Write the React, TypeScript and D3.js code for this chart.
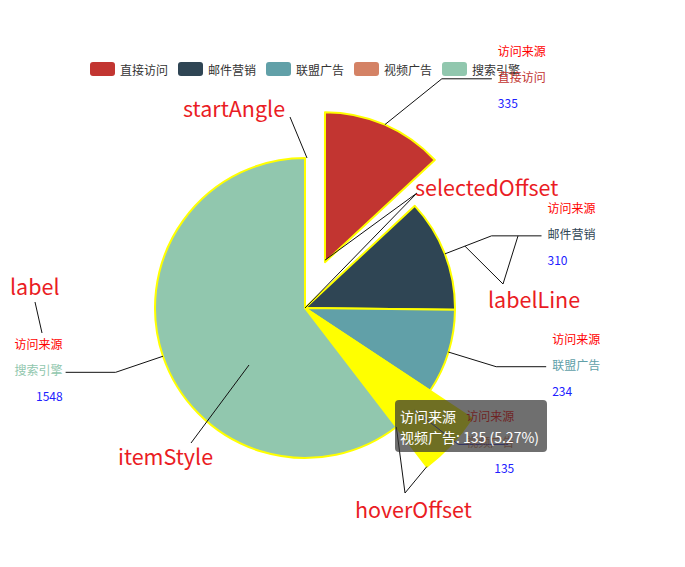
import React from 'react';
import * as d3 from 'd3';

// ---- data ----
const categories = ['直接访问', '邮件营销', '联盟广告', '视频广告', '搜索引擎'];
const values = [335, 310, 234, 135, 1548];
const colors = ['#c23531', '#2f4554', '#61a0a8', '#d48265', '#91c7ae'];
const seriesName = '访问来源';
const selectedIndex = 0;
const hoverIndex = 3;
const annotationTexts = ['startAngle', 'selectedOffset', 'labelLine', 'label', 'itemStyle', 'hoverOffset'];

// ---- layout ----
const W = 685;
const H = 567;
const CX = 305;
const CY = 308;
const R = 150;
const SELECTED_OFFSET = 50;
const HOVER_OFFSET = 50;
const LEN1 = 50;
const LEN2 = 50;
const labelNudge = [37, 0, 0, 7, 0];
const FONT = "'Noto Sans CJK SC', 'Noto Sans', sans-serif";
const ANN = '#ea1c24';

export default function App() {
  const pie = d3.pie<number>().sort(null).value((d) => d);
  const arcs = pie(values);
  const total = d3.sum(values);
  const arcGen = d3.arc<d3.PieArcDatum<number>>().innerRadius(0).outerRadius(R);
  const hoverArc = d3.arc<d3.PieArcDatum<number>>().innerRadius(0).outerRadius(R + HOVER_OFFSET);

  const pt = (a: number, r: number, c: [number, number]): [number, number] => [
    c[0] + Math.sin(a) * r,
    c[1] - Math.cos(a) * r,
  ];

  const items = arcs.map((a, i) => {
    const m = (a.startAngle + a.endAngle) / 2;
    const off = i === selectedIndex ? SELECTED_OFFSET : 0;
    const c: [number, number] = [CX + Math.sin(m) * off, CY - Math.cos(m) * off];
    const dir = Math.sin(m) >= 0 ? 1 : -1;
    const p1 = pt(m, R, c);
    const p2raw = pt(m, R + LEN1, c);
    const p2: [number, number] = [p2raw[0] + labelNudge[i], p2raw[1]];
    const p3: [number, number] = [p2[0] + dir * LEN2, p2[1]];
    let anchor: 'start' | 'end' = dir > 0 ? 'start' : 'end';
    let tx = dir > 0 ? p3[0] + 6 : p3[0] - 3;
    if (i === hoverIndex) {
      anchor = 'end';
      tx = p3[0] + 6;
    }
    return { a, i, m, c, dir, p1, p2, p3, anchor, tx };
  });

  const legendX0 = 90;
  const legendStep = 88;
  const legendY = 69;

  const sel = items[selectedIndex];
  const mail = items[1];
  const hov = items[hoverIndex];
  const lerp = (p: [number, number], q: [number, number], t: number) => [p[0] + (q[0] - p[0]) * t, p[1] + (q[1] - p[1]) * t];
  const mailA = lerp(mail.p1, mail.p2, 0.43);
  const mailB = lerp(mail.p2, mail.p3, 0.53);
  const hovTip = pt(hov.a.endAngle, R + HOVER_OFFSET, [CX, CY]);
  const hovEdge = pt(hov.a.endAngle, R, [CX, CY]);

  const tipX = 395;
  const tipY = 400;
  const pct = ((values[hoverIndex] / total) * 100).toFixed(2);

  return (
    <svg width={W} height={H} style={{ position: 'absolute', left: 0, top: 0, background: '#fff' }} fontFamily={FONT}>
      {/* legend */}
      {categories.map((c, i) => {
        const x = legendX0 + i * legendStep;
        return (
          <g key={c}>
            <rect x={x} y={legendY - 7} width={25} height={14} rx={3} fill={colors[i]} />
            <text x={x + 30} y={legendY} dominantBaseline="central" fontSize={12} fill="#333">{c}</text>
          </g>
        );
      })}

      {/* slices */}
      {items.map((it) => (
        <path
          key={it.i}
          d={(it.i === hoverIndex ? hoverArc(it.a) : arcGen(it.a)) || ''}
          transform={`translate(${it.c[0]},${it.c[1]})`}
          fill={it.i === hoverIndex ? '#ffff00' : colors[it.i]}
          stroke="#ffff00"
          strokeWidth={2}
          strokeLinejoin="round"
        />
      ))}

      {/* label lines + labels */}
      {items.map((it) => (
        <g key={'l' + it.i}>
          <polyline
            points={[it.p1, it.p2, it.p3].map((p) => p.join(',')).join(' ')}
            fill="none"
            stroke={it.i === hoverIndex ? '#2a2ad0' : '#111'}
            strokeWidth={1}
          />
          <text x={it.tx} y={it.p2[1] - 28.5} textAnchor={it.anchor} dominantBaseline="central" fontSize={12} fill="#ff0000">{seriesName}</text>
          <text x={it.tx} y={it.p2[1] - 2.5} textAnchor={it.anchor} dominantBaseline="central" fontSize={12} fill={colors[it.i]}>{categories[it.i]}</text>
          <text x={it.tx} y={it.p2[1] + 23.5} textAnchor={it.anchor} dominantBaseline="central" fontSize={12} fill="#2020ff">{values[it.i]}</text>
        </g>
      ))}

      {/* annotation lines */}
      <g stroke="#111" strokeWidth={1} fill="none">
        <line x1={290} y1={117} x2={CX + 2} y2={CY - R} />
        <line x1={417} y1={193} x2={sel.c[0]} y2={sel.c[1] - 2} />
        <line x1={417} y1={193} x2={CX} y2={CY} />
        <line x1={503} y1={284} x2={mailA[0]} y2={mailA[1]} />
        <line x1={503} y1={284} x2={mailB[0]} y2={mailB[1]} />
        <line x1={35} y1={302} x2={42} y2={333} />
        <line x1={191} y1={443} x2={249} y2={365} />
        <line x1={405} y1={493} x2={hovTip[0]} y2={hovTip[1]} />
        <line x1={405} y1={493} x2={hovEdge[0]} y2={hovEdge[1]} />
      </g>

      {/* annotation texts */}
      <g fill={ANN} fontSize={21.5}>
        <text x={183} y={107} dominantBaseline="central">{annotationTexts[0]}</text>
        <text x={415} y={186} dominantBaseline="central">{annotationTexts[1]}</text>
        <text x={488} y={298} dominantBaseline="central">{annotationTexts[2]}</text>
        <text x={10} y={285} dominantBaseline="central">{annotationTexts[3]}</text>
        <text x={118} y={455} dominantBaseline="central">{annotationTexts[4]}</text>
        <text x={355} y={508} dominantBaseline="central">{annotationTexts[5]}</text>
      </g>

      {/* tooltip */}
      <g>
        <rect x={tipX} y={tipY} width={152} height={52} rx={4} fill="rgba(50,50,50,0.7)" />
        <text x={tipX + 5} y={tipY + 16} dominantBaseline="central" fontSize={14} fill="#fff">{seriesName}</text>
        <text x={tipX + 5} y={tipY + 37} dominantBaseline="central" fontSize={14} fill="#fff">
          {`${categories[hoverIndex]}: ${values[hoverIndex]} (${pct}%)`}
        </text>
      </g>
    </svg>
  );
}
